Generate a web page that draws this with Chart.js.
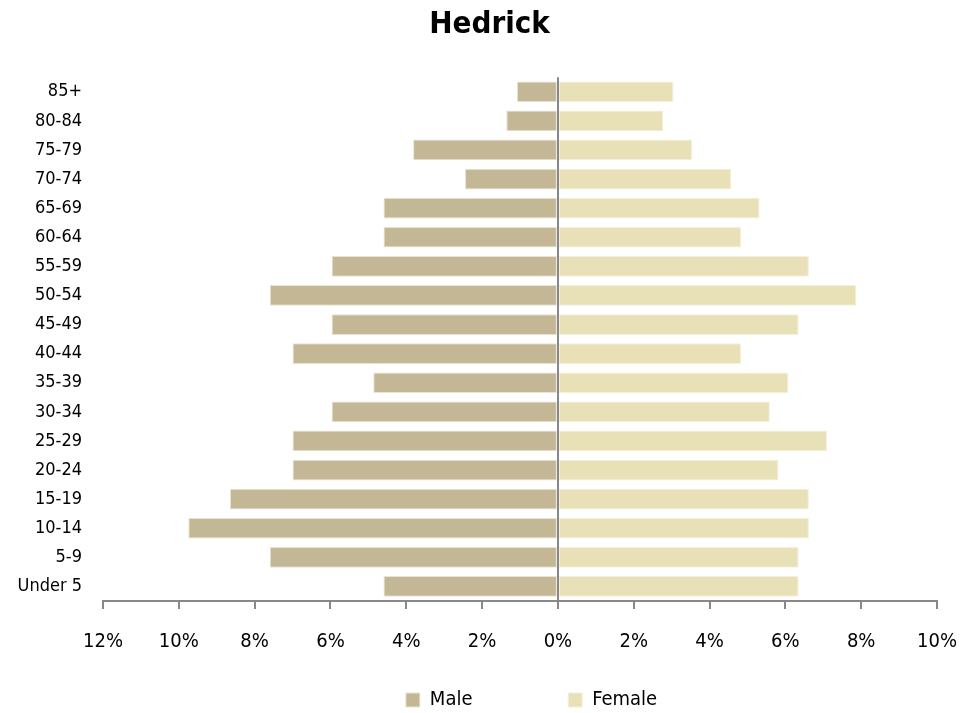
<!DOCTYPE html>
<html>
<head>
<meta charset="utf-8">
<script src="https://cdn.jsdelivr.net/npm/chart.js@4/dist/chart.umd.min.js"></script>
<style>
  html, body { margin: 0; padding: 0; background: #fff; }
  #wrap { width: 979px; height: 713px; }
</style>
</head>
<body>
<div id="wrap"><canvas id="pyramid"></canvas></div>
<script>
// ------------------ Dados ------------------
const ageGroups = ["Under 5", "5-9", "10-14", "15-19", "20-24", "25-29", "30-34", "35-39", "40-44",
                   "45-49", "50-54", "55-59", "60-64", "65-69", "70-74", "75-79", "80-84", "85+"];
const malePct = [4.6, 7.6, 9.75, 8.65, 7.0, 7.0, 5.97, 4.87, 7.0,
                 5.97, 7.6, 5.97, 4.6, 4.6, 2.45, 3.82, 1.36, 1.08];
const femalePct = [6.35, 6.35, 6.62, 6.62, 5.82, 7.1, 5.59, 6.08, 4.83,
                   6.35, 7.87, 6.62, 4.83, 5.32, 4.57, 3.54, 2.78, 3.05];
const xTicks = [-12, -10, -8, -6, -4, -2, 0, 2, 4, 6, 8, 10];

const font = "'DejaVu Sans Condensed', 'Liberation Sans', sans-serif";

// desloca a legenda um pouco para a direita, como no original
const legendShift = {
    id: 'legendShift',
    afterLayout(chart) {
        if (chart.legend) {
            chart.legend.left += 42;
            chart.legend.right += 42;
        }
    }
};

// ------------------ Gráfico ------------------
const ctx = document.getElementById('pyramid').getContext('2d');
new Chart(ctx, {
    type: 'bar',
    data: {
        labels: ageGroups,
        datasets: [
            {
                label: 'Male',
                data: malePct.map(v => -v),
                backgroundColor: '#C4B795',
                borderColor: '#E9E3D2',
                borderWidth: 1,
                borderSkipped: false,
                categoryPercentage: 1,
                barPercentage: 0.71
            },
            {
                label: 'Female',
                data: femalePct,
                backgroundColor: '#E8E1B8',
                borderColor: '#F4F0DC',
                borderWidth: 1,
                borderSkipped: false,
                categoryPercentage: 1,
                barPercentage: 0.71
            }
        ]
    },
    plugins: [legendShift],
    options: {
        indexAxis: 'y',
        responsive: true,
        maintainAspectRatio: false,
        animation: false,
        layout: { padding: { left: 0, right: 0, top: 0, bottom: -7 } },
        plugins: {
            title: {
                display: true,
                text: 'Hedrick',
                color: '#000',
                font: { family: font, size: 31, weight: 'bold' },
                padding: { top: 6, bottom: 34 }
            },
            legend: {
                position: 'bottom',
                labels: {
                    color: '#000',
                    font: { family: font, size: 20 },
                    boxWidth: 14,
                    boxHeight: 14,
                    padding: 10,
                    // espaço extra entre "Male" e "Female"
                    generateLabels: chart => Chart.defaults.plugins.legend.labels.generateLabels(chart)
                        .map((item, i) => ({ ...item, text: i === 0 ? item.text + '\u00a0'.repeat(15) : item.text }))
                }
            },
            tooltip: { enabled: false }
        },
        scales: {
            x: {
                stacked: true,
                min: -12,
                max: 10,
                afterBuildTicks: axis => { axis.ticks = xTicks.map(v => ({ value: v })); },
                afterFit: axis => { axis.height = 79; axis.paddingRight = 42; },
                ticks: {
                    color: '#000',
                    font: { family: font, size: 20 },
                    padding: 21,
                    callback: v => Math.abs(v) + '%'
                },
                grid: {
                    color: c => (c.tick && c.tick.value === 0) ? '#888' : 'rgba(0,0,0,0)',
                    lineWidth: 2,
                    tickColor: '#888',
                    tickLength: 8
                },
                border: { display: true, color: '#888', width: 2 }
            },
            y: {
                stacked: true,
                reverse: true,
                afterFit: axis => { axis.width = 103; },
                ticks: {
                    color: '#000',
                    font: { family: font, size: 18 },
                    padding: 21
                },
                grid: { display: false, drawTicks: false },
                border: { display: false }
            }
        }
    }
});
</script>
</body>
</html>
